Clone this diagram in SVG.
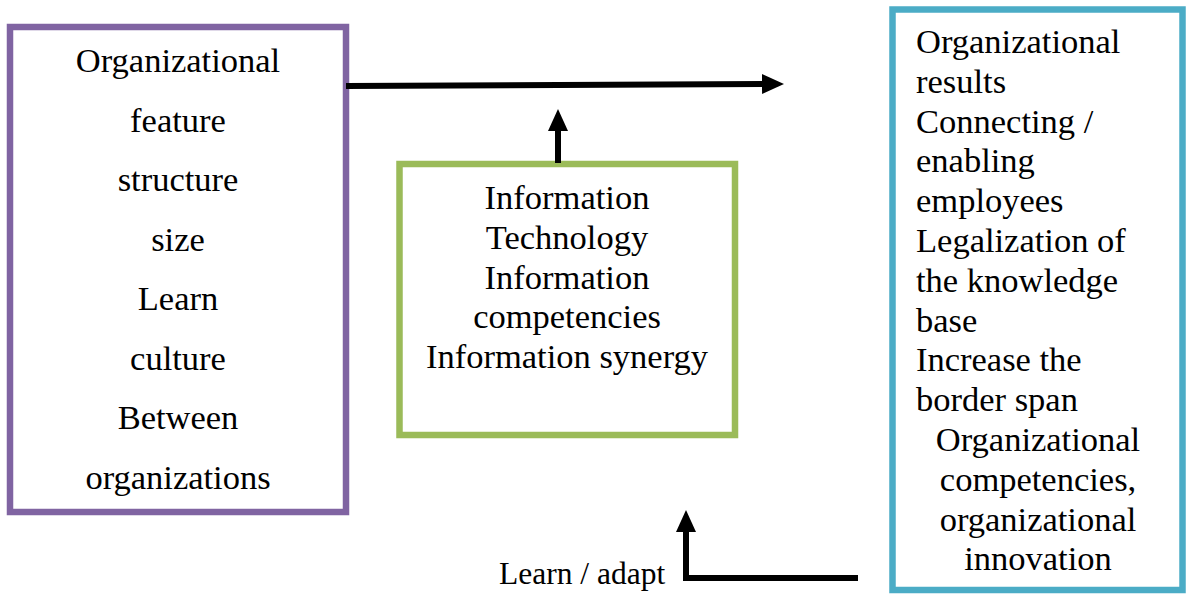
<svg xmlns="http://www.w3.org/2000/svg" width="1189" height="594" viewBox="0 0 1189 594">
<defs>
<style>
text{font-family:"Liberation Serif","Times New Roman",serif;font-size:34.5px;fill:#000}
.c{text-anchor:middle}
.box{fill:#fff;stroke-width:6.5}
.conn{fill:none;stroke:#000;stroke-width:6}
</style>
<marker id="ah" markerUnits="userSpaceOnUse" markerWidth="22" markerHeight="20" refX="0" refY="10" orient="auto" viewBox="0 0 22 20">
<path d="M0,0 L22,10 L0,20 Z" fill="#000"/>
</marker>
</defs>
<rect width="1189" height="594" fill="#fff"/>
<g id="node-org-feature">
<rect class="box" x="10" y="27" width="336" height="485" stroke="#8064A2"/>
<text class="c" x="178" y="72">Organizational</text>
<text class="c" x="178" y="131.5">feature</text>
<text class="c" x="178" y="191">structure</text>
<text class="c" x="178" y="250.5">size</text>
<text class="c" x="178" y="310">Learn</text>
<text class="c" x="178" y="369.5">culture</text>
<text class="c" x="178" y="429">Between</text>
<text class="c" x="178" y="488.5">organizations</text>
</g>
<g id="node-info">
<rect class="box" x="399.5" y="164" width="335.5" height="271" stroke="#9BBB59"/>
<text class="c" x="567" y="209">Information</text>
<text class="c" x="567" y="249">Technology</text>
<text class="c" x="567" y="288.5">Information</text>
<text class="c" x="567" y="328">competencies</text>
<text class="c" x="567" y="368">Information synergy</text>
</g>
<g id="node-results">
<rect class="box" x="892.5" y="9.5" width="290" height="580.5" stroke="#4BACC6"/>
<text x="916" y="53">Organizational</text>
<text x="916" y="92.8">results</text>
<text x="916" y="132.6">Connecting /</text>
<text x="916" y="172.4">enabling</text>
<text x="916" y="212.2">employees</text>
<text x="916" y="252">Legalization of</text>
<text x="916" y="291.8">the knowledge</text>
<text x="916" y="331.6">base</text>
<text x="916" y="371.4">Increase the</text>
<text x="916" y="411.2">border span</text>
<text class="c" x="1038" y="451">Organizational</text>
<text class="c" x="1038" y="490.8">competencies,</text>
<text class="c" x="1038" y="530.6">organizational</text>
<text class="c" x="1038" y="570.4">innovation</text>
</g>
<g id="connectors">
<path class="conn" d="M346,86 L762,84" marker-end="url(#ah)"/>
<path class="conn" d="M558,163 L558,131" marker-end="url(#ah)"/>
<path class="conn" d="M858,578 L686,578 L686,532" marker-end="url(#ah)"/>
</g>
<text id="label-learn" x="499" y="584" style="font-size:31.5px">Learn / adapt</text>
</svg>
